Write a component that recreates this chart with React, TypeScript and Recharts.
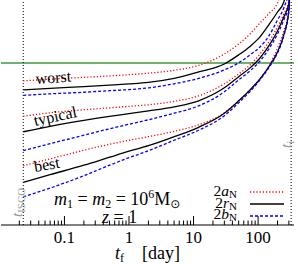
import React from "react";
import {
  LineChart, Line, XAxis, YAxis, ReferenceLine,
} from "recharts";

// t_f in days
const tf = [0.023, 0.06, 0.2, 0.5, 1, 2, 5, 12, 30, 50, 75, 107, 150, 200, 250, 300, 320];

const worstA = [13.75, 14.3, 15.0, 15.5, 16.0, 16.6, 17.8, 20.1, 26.6, 34.0, 43.5, 56.9, 72.7, 92.9, 160, 400, 600];
const worstR = [11.0, 11.44, 11.96, 12.4, 12.77, 13.25, 14.6, 17.1, 20.8, 26.0, 32.0, 40.4, 55.6, 74.5, 95.2, 200, 400];
const worstB = [9.64, 10.0, 10.4, 10.8, 11.1, 11.58, 12.8, 14.6, 18.0, 21.4, 26.0, 31.6, 42.4, 61.3, 82.2, 130, 300];
const typA = [5.76, 6.28, 6.76, 7.10, 7.36, 7.64, 8.32, 9.52, 12.8, 16.3, 20.3, 26.6, 36.6, 51.6, 71.0, 97.6, 300];
const typR = [3.94, 4.51, 5.22, 5.76, 6.15, 6.59, 7.27, 8.43, 11.6, 15.2, 18.9, 24.1, 33.2, 46.8, 65.9, 92.9, 300];
const typB = [2.48, 2.94, 3.62, 4.24, 4.74, 5.29, 6.21, 7.45, 10.5, 14.1, 17.6, 22.4, 30.8, 43.5, 61.3, 88.5, 300];
const bestA = [1.71, 2.03, 2.50, 2.90, 3.20, 3.49, 3.99, 4.68, 6.28, 8.43, 11.0, 14.4, 20.3, 30.8, 46.8, 78.3, 300];
const bestR = [1.14, 1.375, 1.735, 2.11, 2.445, 2.80, 3.49, 4.40, 6.21, 8.43, 11.0, 14.4, 19.9, 28.0, 42.4, 78.3, 300];
const bestB = [0.80, 0.99, 1.34, 1.735, 2.085, 2.475, 3.20, 4.09, 5.84, 8.02, 10.6, 14.1, 19.4, 27.3, 41.4, 76.4, 300];

const xTicks = [
  0.02, 0.03, 0.04, 0.05, 0.06, 0.07, 0.08, 0.09,
  0.1, 0.2, 0.3, 0.4, 0.5, 0.6, 0.7, 0.8, 0.9,
  1, 2, 3, 4, 5, 6, 7, 8, 9,
  10, 20, 30, 40, 50, 60, 70, 80, 90,
  100, 200, 300,
];
const xMajor = [0.1, 1, 10, 100];
const xLabels = ["0.1", "1", "10", "100"];

const yTicks = [
  0.4, 0.5, 0.6, 0.7, 0.8, 0.9,
  1, 2, 3, 4, 5, 6, 7, 8, 9,
  10, 20, 30, 40, 50, 60, 70, 80, 90, 100,
];
const yMajor = [1, 10, 100];

const tIsco = 0.023;
const tI = 325;
const greenLevel = 21.3;

const data = tf.map((t, i) => ({
  t,
  wa: worstA[i], wr: worstR[i], wb: worstB[i],
  ta: typA[i], tr: typR[i], tb: typB[i],
  ba: bestA[i], br: bestR[i], bb: bestB[i],
}));

const serif = "Times New Roman, Liberation Serif, DejaVu Serif, serif";
const serifStyle = { fontFamily: serif };

const BottomTick = (p: any) => {
  const v = p.payload.value;
  const k = xMajor.indexOf(v);
  const len = k >= 0 ? 9 : 4.5;
  return (
    <g>
      <line x1={p.x} x2={p.x} y1={p.y} y2={p.y - len} stroke="#000" />
      {k >= 0 && (
        <text x={p.x} y={p.y + 18} textAnchor="middle" fontSize={17} style={serifStyle} fill="#000">
          {xLabels[k]}
        </text>
      )}
    </g>
  );
};

const TopTick = (p: any) => {
  const len = xMajor.includes(p.payload.value) ? 9 : 4.5;
  return <line x1={p.x} x2={p.x} y1={p.y} y2={p.y + len} stroke="#000" />;
};

const LeftTick = (p: any) => {
  const len = yMajor.includes(p.payload.value) ? 10 : 5;
  return <line x1={p.x} x2={p.x + len} y1={p.y} y2={p.y} stroke="#000" />;
};

const RightTick = (p: any) => {
  const len = yMajor.includes(p.payload.value) ? 10 : 5;
  return <line x1={p.x} x2={p.x - len} y1={p.y} y2={p.y} stroke="#000" />;
};

const RED = "#ff0000";
const BLUE = "#0000ff";
const dot = "1.2 2";
const dash = "3 2";

export default function App() {
  const series = [
    { k: "wa", c: RED, d: dot }, { k: "wr", c: "#000", d: undefined }, { k: "wb", c: BLUE, d: dash },
    { k: "ta", c: RED, d: dot }, { k: "tr", c: "#000", d: undefined }, { k: "tb", c: BLUE, d: dash },
    { k: "ba", c: RED, d: dot }, { k: "br", c: "#000", d: undefined }, { k: "bb", c: BLUE, d: dash },
  ];
  return (
    <div style={{ position: "absolute", left: 0, top: 0, width: 298, height: 264, background: "#fff", fontFamily: serif }}>
      <LineChart width={298} height={264} data={data} margin={{ top: 0, right: 4, bottom: 0, left: 1 }}>
        <XAxis
          dataKey="t" type="number" scale="log" domain={[0.0104, 360]} allowDataOverflow
          ticks={xTicks} interval={0} tickSize={0} tickMargin={0} tickLine={false}
          tick={BottomTick} height={39} stroke="#000"
        />
        <XAxis
          xAxisId="top" orientation="top" dataKey="t" type="number" scale="log" domain={[0.0104, 360]}
          allowDataOverflow ticks={xTicks} interval={0} tickSize={0} tickMargin={0} tickLine={false}
          tick={TopTick} height={0} stroke="#000"
        />
        <YAxis
          type="number" scale="log" domain={[0.4, 100]} allowDataOverflow ticks={yTicks} interval={0}
          tickSize={0} tickMargin={0} tickLine={false} tick={LeftTick} width={0} stroke="#000"
        />
        <YAxis
          yAxisId="right" orientation="right" type="number" scale="log" domain={[0.4, 100]} allowDataOverflow
          ticks={yTicks} interval={0} tickSize={0} tickMargin={0} tickLine={false} tick={RightTick}
          width={0} stroke="#000"
        />
        <ReferenceLine y={greenLevel} stroke="#3c9a3c" strokeWidth={1.6} />
        <ReferenceLine x={tIsco} stroke="#000" strokeDasharray="1 2" />
        <ReferenceLine x={tI} stroke="#000" strokeDasharray="1 2" />
        {series.map((s) => (
          <Line
            key={s.k} dataKey={s.k} type="monotone" stroke={s.c} strokeDasharray={s.d}
            strokeWidth={1.3} dot={false} isAnimationActive={false}
          />
        ))}
      </LineChart>
      <svg width={298} height={264} style={{ position: "absolute", left: 0, top: 0, pointerEvents: "none", fontFamily: serif }}>
        <text x={36} y={84} fontSize={16} transform="rotate(-4 36 84)">worst</text>
        <text x={35} y={126} fontSize={16} transform="rotate(-12 35 126)">typical</text>
        <text x={35} y={172} fontSize={16} transform="rotate(-10 35 172)">best</text>
        <text x={54} y={205} fontSize={18}>
          <tspan fontStyle="italic">m</tspan>
          <tspan fontSize={12} dy={3}>1</tspan>
          <tspan dy={-3}> = </tspan>
          <tspan fontStyle="italic">m</tspan>
          <tspan fontSize={12} dy={3}>2</tspan>
          <tspan dy={-3}> = 10</tspan>
          <tspan fontSize={12} dy={-7}>6</tspan>
          <tspan dy={7}>M</tspan>
          <tspan fontSize={12} dy={3} style={{ fontFamily: "DejaVu Sans, sans-serif" }}>⊙</tspan>
        </text>
        <text x={102} y={223} fontSize={18}>
          <tspan fontStyle="italic">z</tspan> = 1
        </text>
        <text x={237} y={196} fontSize={15.5} textAnchor="end">
          2<tspan fontStyle="italic">a</tspan><tspan fontSize={11} dy={2}>N</tspan>
        </text>
        <text x={237} y={207.5} fontSize={15.5} textAnchor="end">
          2<tspan fontStyle="italic">r</tspan><tspan fontSize={11} dy={2}>N</tspan>
        </text>
        <text x={237} y={219} fontSize={15.5} textAnchor="end">
          2<tspan fontStyle="italic">b</tspan><tspan fontSize={11} dy={2}>N</tspan>
        </text>
        <line x1={250} x2={284} y1={192} y2={192} stroke={RED} strokeWidth={1.3} strokeDasharray={dot} />
        <line x1={250} x2={284} y1={204} y2={204} stroke="#000" strokeWidth={1.3} />
        <line x1={250} x2={284} y1={216} y2={216} stroke={BLUE} strokeWidth={1.3} strokeDasharray={dash} />
        <text x={22} y={217} fontSize={15} fill="#999" transform="rotate(-90 22 217)">
          <tspan fontStyle="italic">t</tspan><tspan fontSize={11} dy={3}>ISCO</tspan>
        </text>
        <text x={291} y={148} fontSize={15} fill="#999" transform="rotate(-90 291 148)">
          <tspan fontStyle="italic">t</tspan><tspan fontSize={11} dy={3}>i</tspan>
        </text>
        <text x={115} y={259} fontSize={18}>
          <tspan fontStyle="italic">t</tspan><tspan fontSize={12} dy={3}>f</tspan>
          <tspan dy={-3} x={142}>[day]</tspan>
        </text>
      </svg>
    </div>
  );
}
